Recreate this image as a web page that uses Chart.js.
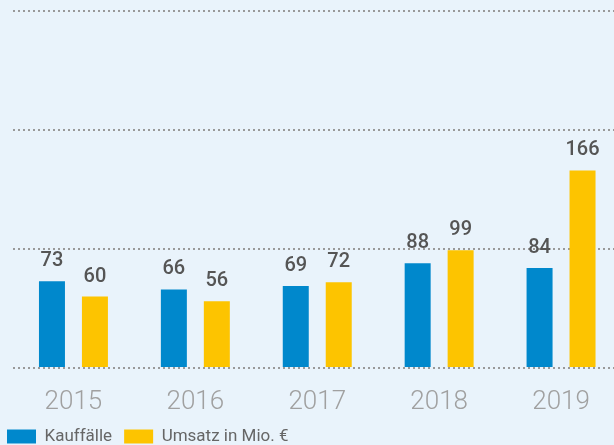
<!DOCTYPE html>
<html>
<head>
<meta charset="utf-8">
<script src="https://cdn.jsdelivr.net/npm/chart.js@4"></script>
<style>
  html, body { margin: 0; padding: 0; overflow: hidden; background: #e9f3fb; }
  #wrap { width: 622px; height: 445px; position: relative; }
</style>
</head>
<body>
<div id="wrap"><canvas id="grafik"></canvas></div>
<script>
const jahre = ['2015', '2016', '2017', '2018', '2019'];
const kauffaelle = [73, 66, 69, 88, 84];
const umsatz = [60, 56, 72, 99, 166];
const serienNamen = ['Kauffälle', 'Umsatz in Mio. €'];
const farben = ['#0088cc', '#fdc400'];

// Werte über den Balken
const wertePlugin = {
    id: 'werte',
    afterDatasetsDraw(chart) {
        const ctx = chart.ctx;
        ctx.save();
        ctx.font = '500 20px Roboto';
        ctx.fillStyle = '#555555';
        ctx.textAlign = 'center';
        ctx.textBaseline = 'alphabetic';
        chart.data.datasets.forEach((ds, i) => {
            chart.getDatasetMeta(i).data.forEach((bar, j) => {
                ctx.fillText(String(ds.data[j]), bar.x, bar.y - 15);
            });
        });
        ctx.restore();
    }
};

new Chart(document.getElementById('grafik'), {
    type: 'bar',
    data: {
        labels: jahre,
        datasets: [
            { label: serienNamen[0], data: kauffaelle, backgroundColor: farben[0] },
            { label: serienNamen[1], data: umsatz, backgroundColor: farben[1] }
        ]
    },
    options: {
        responsive: true,
        maintainAspectRatio: false,
        animation: false,
        categoryPercentage: 0.705,
        barPercentage: 0.605,
        layout: { padding: { left: -5, right: 0, top: 11, bottom: -10 } },
        plugins: {
            tooltip: { enabled: false },
            legend: {
                position: 'bottom',
                align: 'start',
                labels: {
                    boxWidth: 29,
                    boxHeight: 14,
                    padding: 12,
                    color: '#666666',
                    font: { family: 'Roboto', size: 17 }
                }
            }
        },
        scales: {
            x: {
                grid: { display: false },
                border: { display: false },
                afterFit(scale) { scale.height = 48; },
                ticks: {
                    color: '#a0a0a0',
                    padding: 11,
                    font: { family: 'Roboto', size: 26, weight: '300' }
                }
            },
            y: {
                min: 0,
                max: 300,
                afterFit(scale) { scale.width = 17.5; },
                ticks: { display: false, stepSize: 100 },
                border: { display: false, dash: [2, 3] },
                grid: {
                    color: '#999999',
                    lineWidth: 2,
                    drawTicks: false
                }
            }
        }
    },
    plugins: [wertePlugin]
});
</script>
</body>
</html>
